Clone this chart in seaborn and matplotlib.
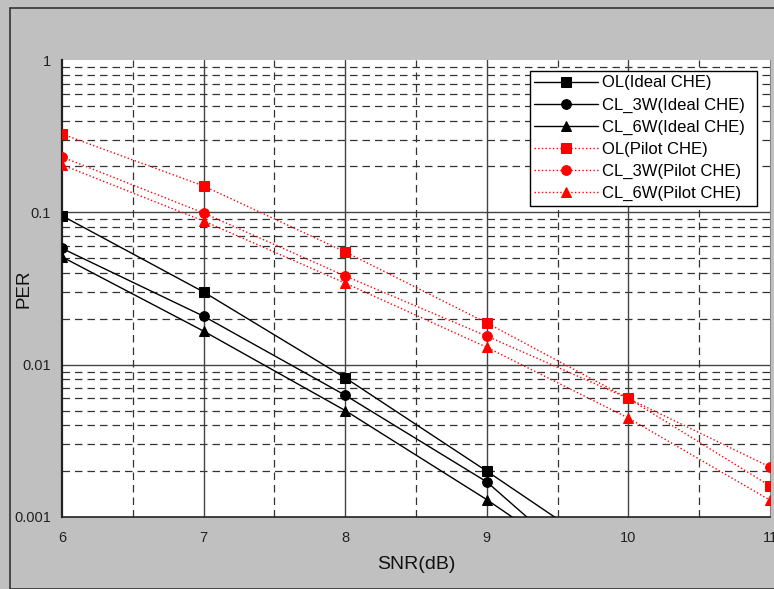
import numpy as np
import pandas as pd
import matplotlib
matplotlib.use("Agg")
import matplotlib.pyplot as plt
import seaborn as sns
from matplotlib.ticker import FixedLocator, NullFormatter

snr = [6, 7, 8, 9, 10, 11]

# ideal channel estimation (black, solid) - the 10 dB points fall below the axis
ol_ideal = [0.095, 0.030, 0.0082, 0.0020, 0.00047]
cl3_ideal = [0.058, 0.0208, 0.0063, 0.0017, 0.00026]
cl6_ideal = [0.051, 0.0166, 0.0050, 0.0013, 0.00030]

# pilot channel estimation (red, dotted)
ol_pilot = [0.327, 0.149, 0.055, 0.0188, 0.0060, 0.0016]
cl3_pilot = [0.231, 0.099, 0.0382, 0.0154, 0.0060, 0.00213]
cl6_pilot = [0.205, 0.0877, 0.0343, 0.0130, 0.00446, 0.00129]

series = [
    ("OL(Ideal CHE)", ol_ideal, "black", "-", "s"),
    ("CL_3W(Ideal CHE)", cl3_ideal, "black", "-", "o"),
    ("CL_6W(Ideal CHE)", cl6_ideal, "black", "-", "^"),
    ("OL(Pilot CHE)", ol_pilot, "red", ":", "s"),
    ("CL_3W(Pilot CHE)", cl3_pilot, "red", ":", "o"),
    ("CL_6W(Pilot CHE)", cl6_pilot, "red", ":", "^"),
]

rows = []
for name, vals, *_ in series:
    for x, v in zip(snr, vals):
        rows.append({"SNR": x, "PER": v, "curve": name})
df = pd.DataFrame(rows)

sns.set_style("white")
plt.rcParams['font.family'] = ['Liberation Sans', 'DejaVu Sans']

fig = plt.figure(figsize=(7.74, 5.89), dpi=100, facecolor="#c0c0c0")
ax = fig.add_axes([62 / 774, 1 - 517 / 589, 708 / 774, 457 / 589])
ax.set_facecolor("white")

# grid: solid at majors, dashed at minors
for d in [0.001, 0.01, 0.1]:
    for m in range(2, 10):
        ax.axhline(d * m, color="#333333", lw=0.9, ls=(0, (6, 4)), zorder=0)
for d in [0.01, 0.1]:
    ax.axhline(d, color="#444444", lw=1.0, zorder=0)
for x in [6.5, 7.5, 8.5, 9.5, 10.5]:
    ax.axvline(x, color="#333333", lw=0.9, ls=(0, (6, 4)), zorder=0)
for x in [7, 8, 9, 10]:
    ax.axvline(x, color="#444444", lw=1.0, zorder=0)

for name, vals, col, ls, mk in series:
    sub = df[df["curve"] == name]
    sns.lineplot(data=sub, x="SNR", y="PER", ax=ax, color=col, marker=mk,
                 markersize=7, markeredgecolor=col, linewidth=1.0,
                 linestyle=ls, label=name, zorder=3, clip_on=True)

ax.set_yscale("log")
ax.set_xlim(6, 11)
ax.set_ylim(0.001, 1)
ax.yaxis.set_major_locator(FixedLocator([0.001, 0.01, 0.1, 1]))
ax.set_yticklabels(["0.001", "0.01", "0.1", "1"])
ax.yaxis.set_minor_locator(FixedLocator([]))
ax.yaxis.set_minor_formatter(NullFormatter())
ax.set_xticks(snr)
ax.set_xticklabels([str(s) for s in snr])
ax.tick_params(axis="both", labelsize=10.5, colors="#222222", length=3, direction="in")
ax.tick_params(axis="x", pad=10)
ax.tick_params(axis="y", pad=8)

for side in ["left", "bottom"]:
    ax.spines[side].set_color("#222222")
ax.spines["left"].set_linewidth(1.6)
ax.spines["bottom"].set_linewidth(1.2)
ax.spines["top"].set_visible(False)
ax.spines["right"].set_color("#888888")

ax.set_xlabel("SNR(dB)", fontsize=14, color="#111111")
ax.xaxis.set_label_coords(0.5, -0.085)
ax.set_ylabel("PER", fontsize=13.5, color="#111111")
ax.yaxis.set_label_coords(-0.041, 0.5)

leg = ax.legend(loc="upper left", bbox_to_anchor=(0.661, 0.5, 0.3206, 0.476),
                mode="expand", fontsize=12,
                frameon=True, fancybox=False, edgecolor="black", framealpha=1,
                handlelength=3.8, borderpad=0.27, labelspacing=0.42,
                handletextpad=0.25, borderaxespad=0)
leg.get_frame().set_linewidth(1.0)
for t in leg.get_texts():
    t.set_color("black")

# outer border like the chart area frame
fig.patches.append(plt.Rectangle((10 / 774, 0), 1, 1 - 8 / 589, transform=fig.transFigure,
                                 fill=False, edgecolor="#333333", lw=1.2))

fig.savefig("out.png", dpi=100, facecolor=fig.get_facecolor())
